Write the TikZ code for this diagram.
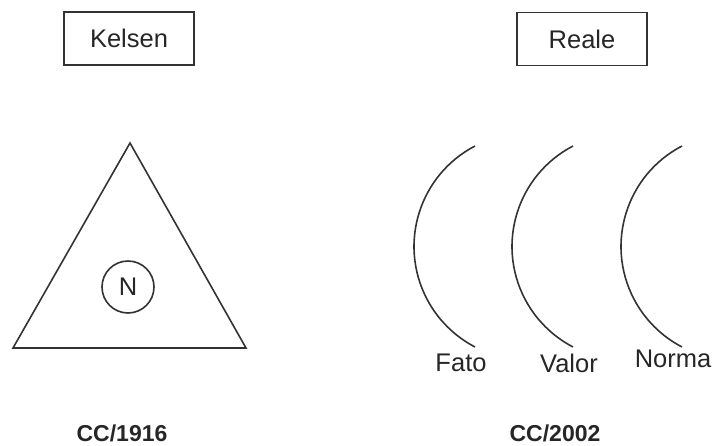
\documentclass[tikz,border=0pt]{standalone}
\usepackage{fontspec}
\setmainfont{Liberation Sans}
\begin{document}
\begin{tikzpicture}[x=1pt,y=-1pt,line width=1.6pt,draw=black!80,text=black!85,
    autor/.style={draw,rectangle,minimum width=130pt,minimum height=53pt,font=\fontsize{25.5}{30}\selectfont},
    rotulo/.style={font=\fontsize{25.5}{30}\selectfont},
    codigo/.style={font=\fontsize{23}{26}\selectfont\bfseries,anchor=base}]
                \useasboundingbox (0,0) rectangle (715,445);
                \node[autor] (kelsen) at (129,38.5) {Kelsen};
                \node[autor] (reale) at (582,39) {Reale};
                \draw (130,143) -- (13,348) -- (246,348) -- cycle;
                \node[draw,circle,minimum size=52pt,rotulo,inner sep=0pt] (n) at (128,287) {N};
                \draw (475,146) arc[start angle=242.5,end angle=117.5,radius=113.3];
                \draw (573,146) arc[start angle=242.5,end angle=117.5,radius=113.3];
                \draw (682,146) arc[start angle=242.5,end angle=117.5,radius=113.3];
                \node[rotulo] (fato) at (461,363) {Fato};
                \node[rotulo] (valor) at (569,363) {Valor};
                \node[rotulo] (norma) at (673,359) {Norma};
                \node[codigo] (cc1916) at (122,441) {CC/1916};
                \node[codigo] (cc2002) at (555,441) {CC/2002};
            \end{tikzpicture}
\end{document}
